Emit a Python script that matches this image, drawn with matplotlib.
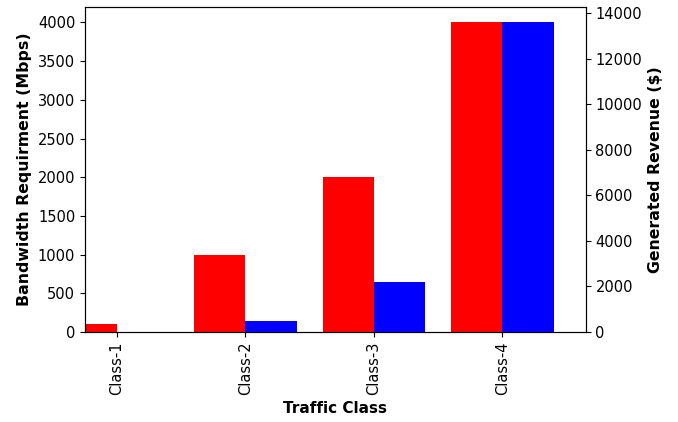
import matplotlib
matplotlib.use("Agg")
import matplotlib.pyplot as plt
import numpy as np

categories = ["Class-1", "Class-2", "Class-3", "Class-4"]
bandwidth = [100, 1000, 2000, 4000]
revenue = [0, 500, 2200, 13600]

plt.rcParams["font.size"] = 10.5

fig = plt.figure(figsize=(6.78, 4.22), dpi=100)
W, H = 678, 422
ax = fig.add_axes([85 / W, (H - 332) / H, (585.7 - 85) / W, (332 - 7) / H])
ax2 = ax.twinx()

x = np.arange(len(categories))
width = 0.4
ax.bar(x - width, bandwidth, width=width, align="edge", color="red")
ax2.bar(x, revenue, width=width, align="edge", color="blue")

ax.set_xticks(x)
ax.set_xticklabels(categories, rotation=90)
ax.set_xlim(-0.25, 3.65)
ax2.set_xlim(-0.25, 3.65)
ax.set_ylim(0, 4200)
ax2.set_ylim(0, 14280)

ax.set_xlabel("Traffic Class", fontweight="bold", fontsize=11)
ax.set_ylabel("Bandwidth Requirment (Mbps)", fontweight="bold", fontsize=11.3)
ax2.set_ylabel("Generated Revenue ($)", fontweight="bold", fontsize=11.3)

fig.savefig("out.png", dpi=100)
